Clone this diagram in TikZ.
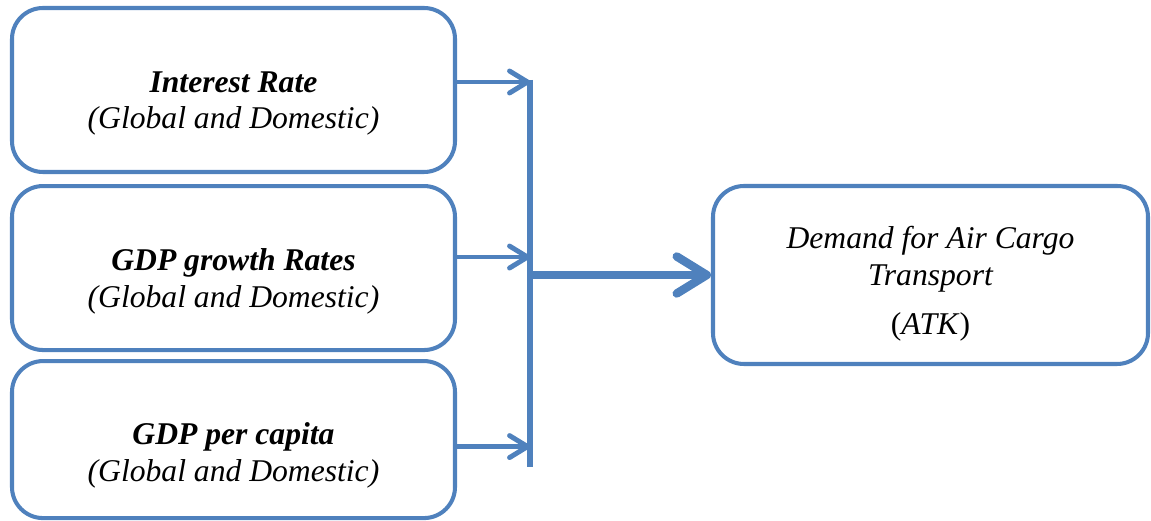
\documentclass[tikz,border=0pt]{standalone}
\usepackage{fontspec}
\setmainfont{Liberation Serif}
\usetikzlibrary{arrows.meta,positioning}
\definecolor{boxblue}{HTML}{4F81BD}
\tikzset{
    factor/.style={rectangle,rounded corners=0.62cm,draw=boxblue,line width=2.3pt,minimum width=8.86cm,minimum height=3.28cm},
    factortext/.style={align=center,font=\fontsize{18}{21}\selectfont\itshape},
    feed/.style={draw=boxblue,line width=2.8pt,-{Straight Barb[round,length=0.36cm,width=0.44cm]}},
    mainarrow/.style={draw=boxblue,line width=4.8pt,-{Straight Barb[round,length=0.6cm,width=0.74cm]}},
    bar/.style={draw=boxblue,line width=3.4pt}
}

\begin{document}
\begin{tikzpicture}
\useasboundingbox (0,0) rectangle (23.02,10.42);
\node[factor] (rate) at (4.67,8.62) {};
\node[factor, below=0.2cm of rate] (growth) {};
\node[factor, below=0.14cm of growth, minimum height=3.14cm] (capita) {};
\node[factor, minimum width=8.7cm, minimum height=3.56cm] (demand) at (18.61,4.92) {};

\node[factortext] (ratetext) at ([yshift=-0.27cm]rate.center) {{\bfseries Interest Rate}\\(Global and Domestic)};
\node[factortext] (growthtext) at ([yshift=-0.27cm]growth.center) {{\bfseries GDP growth Rates}\\(Global and Domestic)};
\node[factortext] (capitatext) at ([yshift=-0.32cm]capita.center) {{\bfseries GDP per capita}\\(Global and Domestic)};
\node[factortext] (demandtext) at ([yshift=-0.18cm]demand.center) {Demand for Air Cargo\\Transport\\[0.25cm]\textup{(}ATK\textup{)}};

% collecting bar
\coordinate (bartop) at (10.6,8.82);
\coordinate (barbot) at (10.6,1.08);
\draw[bar] (bartop) -- (barbot);

\coordinate (ratein) at ([yshift=0.16cm]rate.east);
\coordinate (growthin) at ([yshift=0.22cm]growth.east);
\coordinate (capitain) at ([yshift=-0.14cm]capita.east);

\draw[feed] (ratein) -- (ratein -| bartop);
\draw[feed] (growthin) -- (growthin -| bartop);
\draw[feed] (capitain) -- (capitain -| bartop);

\draw[mainarrow] (barbot |- demand.west) -- (demand.west);
\end{tikzpicture}
\end{document}
